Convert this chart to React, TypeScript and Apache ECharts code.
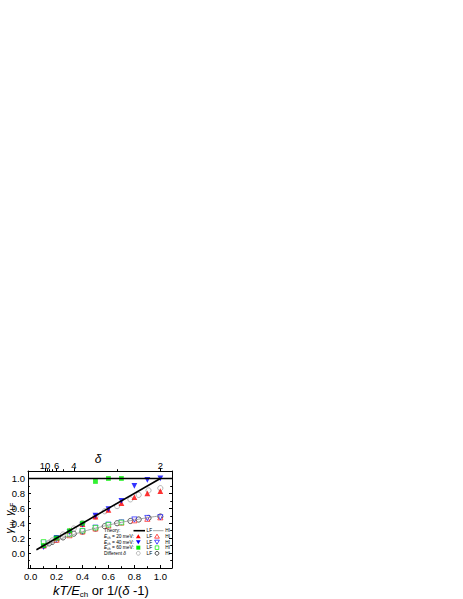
import { useEffect, useRef } from 'react'
import * as echarts from 'echarts'

// kT/E_ch values of the simulated runs
const kT = [0.1, 0.2, 0.3, 0.4, 0.5, 0.6, 0.7, 0.8, 0.9, 1.0]
const e20LF = [0.1, 0.2, 0.3, 0.39, 0.49, 0.58, 0.67, 0.75, 0.8, 0.83]
const e20HI = [0.12, 0.18, 0.24, 0.29, 0.33, 0.37, 0.41, 0.44, 0.46, 0.48]
const e40LF = [0.08, 0.2, 0.28, 0.38, 0.5, 0.59, 0.7, 0.9, 0.98, 1.0]
const e40HI = [0.13, 0.19, 0.25, 0.29, 0.34, 0.38, 0.41, 0.45, 0.47, 0.48]
const kT60 = [0.1, 0.2, 0.3, 0.4, 0.5, 0.6, 0.7]
const e60LF = [0.1, 0.2, 0.3, 0.4, 0.96, 1.0, 1.0]
const e60HI = [0.15, 0.2, 0.25, 0.3, 0.34, 0.38, 0.41]

// runs with different delta, x = 1/(delta-1)
const deltas = [10, 8, 7, 6, 5, 4, 3.5, 3, 2.75, 2.5, 2.3, 2.2, 2.1, 2]
const deltaLF = [0.11, 0.14, 0.17, 0.2, 0.25, 0.33, 0.4, 0.49, 0.56, 0.63, 0.72, 0.78, 0.84, 0.87]
const deltaHI = [0.11, 0.13, 0.15, 0.18, 0.21, 0.26, 0.29, 0.33, 0.36, 0.4, 0.43, 0.45, 0.47, 0.49]

const theoryLF = [[0.045, 0.045], [1.0, 1.0]]
const theoryHI = [
  [0.045, 0.043], [0.1, 0.09], [0.2, 0.167], [0.3, 0.23], [0.4, 0.286], [0.5, 0.333],
  [0.6, 0.375], [0.7, 0.412], [0.8, 0.444], [0.9, 0.474], [1.0, 0.5],
]
const unityLine = [[-0.02, 1], [1.09, 1]]

const xTicks = [0, 0.2, 0.4, 0.6, 0.8, 1.0]
const xMinor = [0.1, 0.3, 0.5, 0.7, 0.9]
const deltaMajor = [10, 6, 4, 2]
const deltaMinor = [9, 8, 7, 5, 2.5]

const FONT = 'Liberation Sans, Arial, sans-serif'
const RED = '#FF0000'
const BLUE = '#0000FF'
const GREEN = '#00EE00'
const GRAY = '#8C8C8C'

const pts = (xs: number[], ys: number[]) => xs.map((x, i) => [x, ys[i]])
const dx = (d: number) => 1 / (d - 1)

const legendRows = ['Theory', '20', '40', '60', 'delta']
const legendTop = 530.7
const legendStep = 5.65

function legendGraphics() {
  const els: any[] = []
  const fx = 138.3
  const ox = 157
  legendRows.forEach((row, i) => {
    const y = legendTop + i * legendStep
    let text = ''
    if (row === 'Theory') text = '{n|Theory:}'
    else if (row === 'delta') text = '{n|Different }{i|δ}'
    else text = `{i|E}{s|ch}{n| = ${row} meV:}`
    els.push({
      type: 'text', x: 104, y,
      style: {
        text, fill: '#000', fontFamily: FONT, fontSize: 4.8, align: 'left', verticalAlign: 'middle',
        rich: {
          n: { fontSize: 4.8, fontFamily: FONT, lineHeight: 6, verticalAlign: 'middle' },
          i: { fontSize: 4.8, fontFamily: FONT, fontStyle: 'italic', lineHeight: 6, verticalAlign: 'middle' },
          s: { fontSize: 3.3, fontFamily: FONT, lineHeight: 3.5, verticalAlign: 'bottom' },
        },
      },
    })
    ;['LF', 'HI'].forEach((t, k) => {
      els.push({
        type: 'text', x: k === 0 ? 146.5 : 165.2, y,
        style: { text: t, fill: '#000', fontFamily: FONT, fontSize: 4.8, align: 'left', verticalAlign: 'middle' },
      })
    })
    if (row === 'Theory') {
      els.push({ type: 'line', shape: { x1: 133.5, y1: y, x2: 145, y2: y }, style: { stroke: '#000', lineWidth: 1.6 } })
      els.push({ type: 'line', shape: { x1: 153, y1: y, x2: 163.5, y2: y }, style: { stroke: GRAY, lineWidth: 0.8 } })
    } else if (row === '20' || row === '40') {
      const c = row === '20' ? RED : BLUE
      const s = row === '20' ? 1 : -1
      const tri = (x: number) => [[x, y - 2.2 * s], [x + 2.4, y + 1.8 * s], [x - 2.4, y + 1.8 * s]]
      els.push({ type: 'polygon', shape: { points: tri(fx) }, style: { fill: c } })
      els.push({ type: 'polygon', shape: { points: tri(ox) }, style: { fill: '#fff', stroke: c, lineWidth: 0.7 } })
    } else if (row === '60') {
      els.push({ type: 'rect', shape: { x: fx - 2, y: y - 2, width: 4, height: 4 }, style: { fill: GREEN } })
      els.push({ type: 'rect', shape: { x: ox - 1.8, y: y - 1.8, width: 3.6, height: 3.6 }, style: { fill: '#fff', stroke: GREEN, lineWidth: 0.7 } })
    } else {
      els.push({ type: 'circle', shape: { cx: fx, cy: y, r: 1.9 }, style: { fill: '#fff', stroke: GRAY, lineWidth: 0.6 } })
      els.push({ type: 'circle', shape: { cx: ox, cy: y, r: 1.9 }, style: { fill: '#fff', stroke: '#000', lineWidth: 0.7 } })
    }
  })
  return els
}

export default function GammaChart() {
  const ref = useRef<HTMLDivElement>(null)

  useEffect(() => {
    if (!ref.current) return
    const chart = echarts.init(ref.current, undefined, { renderer: 'svg' })

    const axisLine = { show: true, onZero: false, lineStyle: { color: '#000', width: 1 } }
    const noLine = { show: false, onZero: false }
    const label = { color: '#000', fontSize: 9.5, fontFamily: FONT }
    const deltaPos = deltaMajor.map(dx)

    const open = (c: string) => ({ color: '#fff', borderColor: c, borderWidth: 0.8 })

    chart.setOption({
      animation: false,
      backgroundColor: '#fff',
      grid: { left: 28, top: 471, width: 144, height: 97, outerBoundsMode: 'none' },
      xAxis: [
        {
          type: 'value', position: 'bottom', min: -0.02, max: 1.09,
          axisLine, splitLine: { show: false },
          axisTick: { inside: true, length: 3, customValues: xTicks, lineStyle: { color: '#000' } },
          axisLabel: { ...label, margin: 3, customValues: xTicks, formatter: (v: number) => v.toFixed(1) },
        },
        {
          type: 'value', position: 'top', min: -0.02, max: 1.09,
          axisLine, splitLine: { show: false },
          axisTick: { inside: false, length: 3, customValues: deltaPos, lineStyle: { color: '#000' } },
          axisLabel: {
            ...label, margin: 1, customValues: deltaPos,
            formatter: (v: number) => {
              const i = deltaPos.findIndex((p) => Math.abs(p - v) < 1e-6)
              return i >= 0 ? String(deltaMajor[i]) : ''
            },
          },
        },
        {
          type: 'value', position: 'bottom', min: -0.02, max: 1.09,
          axisLine: noLine, splitLine: { show: false }, axisLabel: { show: false },
          axisTick: { inside: true, length: 1.8, customValues: xMinor, lineStyle: { color: '#000' } },
        },
        {
          type: 'value', position: 'top', min: -0.02, max: 1.09,
          axisLine: noLine, splitLine: { show: false }, axisLabel: { show: false },
          axisTick: { inside: false, length: 1.8, customValues: deltaMinor.map(dx), lineStyle: { color: '#000' } },
        },
      ],
      yAxis: [
        {
          type: 'value', position: 'left', min: -0.2, max: 1.1, interval: 0.2,
          axisLine, splitLine: { show: false },
          axisTick: { inside: true, length: 3, lineStyle: { color: '#000' } },
          minorTick: { show: true, splitNumber: 2, length: 1.8, lineStyle: { color: '#000' } },
          axisLabel: {
            ...label, margin: 3, showMaxLabel: false,
            formatter: (v: number) => (v < -0.01 || v > 1.05 ? '' : v.toFixed(1)),
          },
        },
        {
          type: 'value', position: 'right', min: -0.2, max: 1.1, interval: 0.2,
          axisLine, splitLine: { show: false }, axisLabel: { show: false },
          axisTick: { inside: true, length: 3, lineStyle: { color: '#000' } },
          minorTick: { show: true, splitNumber: 2, length: 1.8, lineStyle: { color: '#000' } },
        },
      ],
      series: [
        { type: 'line', data: unityLine, symbol: 'none', silent: true, lineStyle: { color: '#000', width: 1.4 } },
        { type: 'line', data: theoryHI, smooth: true, symbol: 'none', silent: true, lineStyle: { color: GRAY, width: 0.8 } },
        { type: 'line', data: theoryLF, symbol: 'none', silent: true, lineStyle: { color: '#000', width: 1.6 } },
        { type: 'scatter', data: pts(deltas.map(dx), deltaHI), symbol: 'circle', symbolSize: 5.2, silent: true, itemStyle: open('#000') },
        { type: 'scatter', data: pts(deltas.map(dx), deltaLF), symbol: 'circle', symbolSize: 5.2, silent: true, itemStyle: open(GRAY) },
        { type: 'scatter', data: pts(kT, e20HI), symbol: 'triangle', symbolSize: 5.2, silent: true, itemStyle: open(RED) },
        { type: 'scatter', data: pts(kT, e40HI), symbol: 'triangle', symbolRotate: 180, symbolSize: 5.2, silent: true, itemStyle: open(BLUE) },
        { type: 'scatter', data: pts(kT60, e60HI), symbol: 'rect', symbolSize: 4.6, silent: true, itemStyle: open(GREEN) },
        { type: 'scatter', data: pts(kT, e20LF), symbol: 'triangle', symbolSize: 5.8, silent: true, itemStyle: { color: RED } },
        { type: 'scatter', data: pts(kT, e40LF), symbol: 'triangle', symbolRotate: 180, symbolSize: 5.8, silent: true, itemStyle: { color: BLUE } },
        { type: 'scatter', data: pts(kT60, e60LF), symbol: 'rect', symbolSize: 4.8, silent: true, itemStyle: { color: GREEN } },
      ],
      graphic: [
        {
          type: 'text', x: 98, y: 458.5,
          style: { text: 'δ', fill: '#000', fontFamily: FONT, fontSize: 12, fontStyle: 'italic', align: 'center', verticalAlign: 'middle' },
        },
        {
          type: 'text', x: 101, y: 590,
          style: {
            text: '{i|kT/E}{s|ch}{n| or 1/(}{i|δ}{n| -1)}',
            fill: '#000', fontFamily: FONT, fontSize: 13, align: 'center', verticalAlign: 'middle',
            rich: {
              i: { fontSize: 13, fontStyle: 'italic', fontFamily: FONT, lineHeight: 17, verticalAlign: 'middle' },
              n: { fontSize: 13, fontFamily: FONT, lineHeight: 17, verticalAlign: 'middle' },
              s: { fontSize: 8, fontFamily: FONT, lineHeight: 8.5, verticalAlign: 'bottom' },
            },
          },
        },
        {
          type: 'text', x: 9, y: 518, rotation: Math.PI / 2,
          style: {
            text: '{g|γ}{s|HI}{g|, γ}{s|LF}',
            fill: '#000', fontFamily: FONT, fontSize: 10.5, align: 'center', verticalAlign: 'middle',
            rich: {
              g: { fontSize: 10.5, fontStyle: 'italic', fontFamily: FONT, lineHeight: 14, verticalAlign: 'middle' },
              s: { fontSize: 6.8, fontFamily: FONT, lineHeight: 7, verticalAlign: 'bottom' },
            },
          },
        },
        ...legendGraphics(),
      ],
    })

    return () => {
      chart.dispose()
    }
  }, [])

  return (
    <div
      ref={ref}
      style={{ position: 'absolute', left: 0, top: 0, width: 463, height: 599, background: '#fff' }}
    />
  )
}
